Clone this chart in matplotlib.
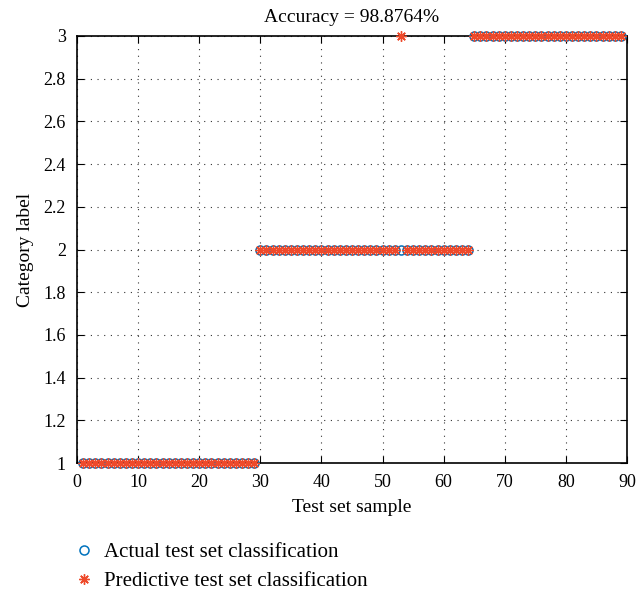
import numpy as np
import matplotlib
matplotlib.use("Agg")
from matplotlib import pyplot as plt

plt.rcParams['font.family'] = ['Liberation Serif', 'DejaVu Serif']

# test set: samples 1..89, actual class labels and predicted labels
samples = np.arange(1, 90)
actual = [1] * 29 + [2] * 35 + [3] * 25
predicted = list(actual)
predicted[52] = 3  # sample 53 misclassified
accuracy_text = "Accuracy = 98.8764%"

x_ticks = [0, 10, 20, 30, 40, 50, 60, 70, 80, 90]
y_ticks = [1, 1.2, 1.4, 1.6, 1.8, 2, 2.2, 2.4, 2.6, 2.8, 3]

fig = plt.figure(figsize=(6.38, 5.93), dpi=100)
ax = fig.add_axes([77 / 638, 130 / 593, 550 / 638, 427 / 593])

ax.plot(samples, actual, linestyle='none', marker='o', markersize=6.5,
        markerfacecolor='none', markeredgecolor='#0072BD', markeredgewidth=1.1,
        label='Actual test set classification', clip_on=False, zorder=3)
ax.plot(samples, predicted, linestyle='none', marker=(8, 2, 0), markersize=7.5,
        color='#EE4A2B', markeredgewidth=1.0,
        label='Predictive test set classification', clip_on=False, zorder=4)

ax.set_xlim(0, 90)
ax.set_ylim(1, 3)
ax.set_xticks(x_ticks)
ax.set_yticks(y_ticks)
ax.set_yticklabels([f"{v:g}" for v in y_ticks])
ax.tick_params(direction='in', labelsize=13, length=5, top=True, right=True,
               colors='black', pad=8)
ax.grid(True, linestyle=(0, (1, 5)), color='black', linewidth=0.8, alpha=0.8)
for s in ax.spines.values():
    s.set_linewidth(1.2)

ax.set_title(accuracy_text, fontsize=14, pad=10)
ax.set_xlabel("Test set sample", fontsize=14, labelpad=6)
ax.set_ylabel("Category label", fontsize=14, labelpad=7)

leg = ax.legend(loc='upper left', bbox_to_anchor=(-0.05, -0.142), frameon=False,
                fontsize=15, handletextpad=0.2, handlelength=1.5,
                labelspacing=0.45)

fig.savefig("out.png", dpi=100)
